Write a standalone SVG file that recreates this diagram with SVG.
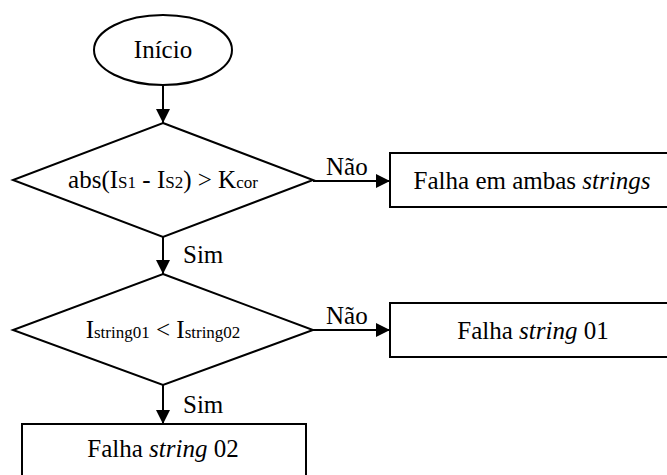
<svg xmlns="http://www.w3.org/2000/svg" width="667" height="475" viewBox="0 0 667 475">
  <style>
    .shape { fill: #ffffff; stroke: #000000; stroke-width: 2; }
    .edge { fill: none; stroke: #000000; stroke-width: 2; }
    .lbl { font-family: "Liberation Serif", "Times New Roman", serif; font-size: 25px; fill: #000000; }
    .c { text-anchor: middle; }
    .sub { font-size: 17px; }
    .it { font-style: italic; }
  </style>
  <defs>
    <marker id="arrow" viewBox="0 0 14 14" refX="14" refY="7" markerWidth="14" markerHeight="14" markerUnits="userSpaceOnUse" orient="auto">
      <path d="M0,0 L14,7 L0,14 Z" fill="#000000"/>
    </marker>
  </defs>

  <!-- connectors and their labels -->
  <g id="connectors">
    <line class="edge" x1="163" y1="85" x2="163" y2="123" marker-end="url(#arrow)"/>
    <line class="edge" x1="313" y1="181" x2="390" y2="181" marker-end="url(#arrow)"/>
    <line class="edge" x1="163" y1="237" x2="163" y2="274" marker-end="url(#arrow)"/>
    <line class="edge" x1="313" y1="330" x2="390" y2="330" marker-end="url(#arrow)"/>
    <line class="edge" x1="163" y1="385" x2="163" y2="424" marker-end="url(#arrow)"/>
    <text class="lbl" x="326" y="175">Não</text>
    <text class="lbl" x="183" y="263">Sim</text>
    <text class="lbl" x="326" y="324">Não</text>
    <text class="lbl" x="183" y="413">Sim</text>
  </g>

  <!-- start terminal -->
  <g id="inicio">
    <ellipse class="shape" cx="163" cy="50" rx="69" ry="35"/>
    <text class="lbl c" x="163" y="58">Início</text>
  </g>

  <!-- current difference test -->
  <g id="decisao1">
    <polygon class="shape" points="163,123 313,180 163,237 13,180"/>
    <text class="lbl c" x="163" y="188">abs(I<tspan class="sub">S1</tspan> - I<tspan class="sub">S2</tspan>) &gt; K<tspan class="sub">cor</tspan></text>
  </g>

  <!-- both strings failed -->
  <g id="falha-ambas">
    <rect class="shape" x="390" y="153" width="290" height="54"/>
    <text class="lbl c" x="532" y="189">Falha em ambas <tspan class="it">strings</tspan></text>
  </g>

  <!-- string comparison -->
  <g id="decisao2">
    <polygon class="shape" points="163,274 313,330 163,385 13,330"/>
    <text class="lbl c" x="163" y="338">I<tspan class="sub">string01</tspan> &lt; I<tspan class="sub">string02</tspan></text>
  </g>

  <!-- string 01 failed -->
  <g id="falha-01">
    <rect class="shape" x="390" y="303" width="290" height="54"/>
    <text class="lbl c" x="533" y="339">Falha <tspan class="it">string</tspan> 01</text>
  </g>

  <!-- string 02 failed -->
  <g id="falha-02">
    <rect class="shape" x="22" y="424" width="284" height="60"/>
    <text class="lbl c" x="163" y="457">Falha <tspan class="it">string</tspan> 02</text>
  </g>
</svg>
